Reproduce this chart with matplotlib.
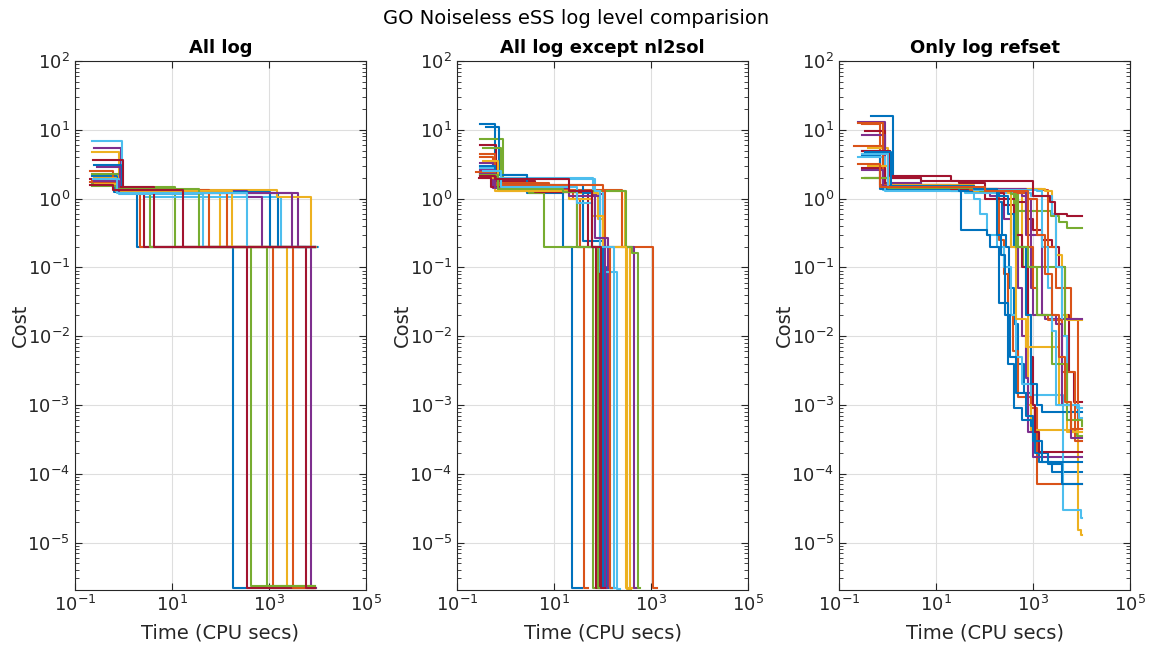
import matplotlib
matplotlib.use("Agg")
import matplotlib.pyplot as plt
from matplotlib.ticker import NullLocator, FixedLocator, LogFormatterMathtext

plt.rcParams['axes.unicode_minus'] = False

# MATLAB default line colours
colors = ['#0072BD', '#D95319', '#EDB120', '#7E2F8E', '#77AC30', '#4DBEEE', '#A2142F']

titles = ["All log", "All log except nl2sol", "Only log refset"]
xticks = [1e-1, 1e1, 1e3, 1e5]
yticks = [1e-5, 1e-4, 1e-3, 1e-2, 1e-1, 1e0, 1e1, 1e2]

# each run: list of (time, best cost) breakpoints, drawn as post-steps
all_log = [
    [(0.22, 2.1), (0.75, 1.45), (1.9, 0.2), (184, 2.2e-6), (9000, 2.2e-6)],
    [(0.2, 2.5), (0.6, 1.45), (2.2, 0.2), (1200, 2.15e-6), (9000, 2.15e-6)],
    [(0.22, 4.7), (0.8, 1.3), (98, 0.2), (2300, 2.2e-6), (9500, 2.2e-6)],
    [(0.25, 5.5), (0.9, 1.4), (3.5, 1.2), (4000, 0.2), (7240, 2.2e-6), (9500, 2.2e-6)],
    [(0.22, 2.3), (0.85, 1.5), (11.5, 0.2), (417, 2.3e-6), (9000, 2.3e-6)],
    [(0.22, 6.8), (0.95, 1.3), (2.6, 1.05), (1810, 0.2), (10500, 0.2)],
    [(0.24, 3.6), (1.0, 1.45), (2.6, 0.2), (347, 2.15e-6), (8000, 2.15e-6)],
    [(0.25, 3.1), (0.9, 1.35), (4.3, 1.2), (1540, 0.2), (10000, 0.2)],
    [(0.22, 1.8), (0.7, 1.3), (134, 0.2), (3080, 2.2e-6), (9000, 2.2e-6)],
    [(0.25, 2.0), (0.7, 1.35), (1500, 1.05), (7240, 0.2), (9500, 0.2)],
    [(0.28, 2.9), (0.85, 1.3), (350, 1.05), (704, 0.2), (9000, 0.2)],
    [(0.22, 1.7), (0.65, 1.4), (3.5, 0.2), (933, 2.3e-6), (9000, 2.3e-6)],
    [(0.25, 1.9), (0.8, 1.15), (44, 0.2), (9000, 0.2)],
    [(0.2, 1.9), (0.7, 1.5), (4.3, 0.2), (5730, 2.2e-6), (9000, 2.2e-6)],
    [(0.24, 1.6), (0.65, 1.25), (1070, 0.2), (9000, 0.2)],
    [(0.2, 1.75), (0.75, 1.35), (59, 0.2), (9000, 0.2)],
    [(0.26, 1.65), (0.7, 1.3), (171, 0.2), (9000, 0.2)],
    [(0.25, 1.8), (0.8, 1.2), (2930, 0.2), (9000, 0.2)],
    [(0.22, 1.55), (0.7, 1.4), (36, 0.2), (9000, 0.2)],
    [(0.24, 1.95), (0.75, 1.2), (347, 0.2), (9000, 0.2)],
    [(0.2, 1.6), (0.6, 1.35), (17, 0.2), (9000, 0.2)],
]

no_nl2sol = [
    [(0.3, 12), (0.6, 2.2), (2.8, 1.2), (15, 0.2), (24, 2.2e-6), (38, 2.2e-6)],
    [(0.3, 4.0), (0.55, 1.9), (3, 1.35), (250, 0.2), (1120, 2.2e-6), (1300, 2.2e-6)],
    [(0.35, 2.2), (0.6, 1.8), (3, 1.3), (290, 0.2), (316, 2.1e-6), (380, 2.1e-6)],
    [(0.3, 3.3), (0.55, 1.45), (6, 1.3), (60, 1.15), (100, 0.27), (130, 2.2e-6), (160, 2.2e-6)],
    [(0.3, 7.3), (0.9, 1.9), (3, 1.2), (6.2, 0.2), (65, 2.2e-6), (80, 2.2e-6)],
    [(0.3, 2.3), (0.6, 2.0), (65, 1.3), (100, 0.085), (195, 2.1e-6), (230, 2.1e-6)],
    [(0.3, 6.0), (0.65, 1.8), (4, 1.25), (30, 0.2), (85, 2.2e-6), (100, 2.2e-6)],
    [(0.4, 11), (0.75, 2.2), (2.8, 1.3), (40, 0.24), (110, 0.1), (120, 2.2e-6), (140, 2.2e-6)],
    [(0.3, 4.5), (0.6, 1.7), (8, 1.35), (25, 1.0), (35, 0.2), (42, 2.2e-6), (50, 2.2e-6)],
    [(0.35, 2.0), (0.6, 1.3), (30, 1.2), (80, 0.5), (100, 0.2), (370, 2.2e-6), (420, 2.2e-6)],
    [(0.3, 2.6), (0.6, 1.6), (10, 1.25), (60, 1.1), (90, 0.2), (450, 2.2e-6), (520, 2.2e-6)],
    [(0.35, 5.5), (0.8, 1.5), (20, 1.3), (300, 0.2), (400, 0.16), (550, 2.2e-6), (600, 2.2e-6)],
    [(0.3, 2.8), (0.6, 1.9), (70, 1.3), (90, 0.085), (140, 2.2e-6), (170, 2.2e-6)],
    [(0.28, 2.0), (0.5, 1.5), (5, 1.25), (50, 0.2), (75, 2.2e-6), (90, 2.2e-6)],
    [(0.3, 3.0), (0.6, 1.6), (40, 1.2), (60, 0.2), (100, 2.2e-6), (115, 2.2e-6)],
    [(0.25, 2.4), (0.6, 1.6), (100, 1.3), (110, 0.2), (140, 2.2e-6), (160, 2.2e-6)],
    [(0.35, 3.5), (0.7, 1.3), (20, 1.0), (60, 0.55), (100, 0.2), (300, 2.2e-6), (340, 2.2e-6)],
    [(0.3, 2.3), (0.6, 1.45), (20, 1.1), (70, 0.27), (110, 2.2e-6), (125, 2.2e-6)],
    [(0.3, 2.2), (0.7, 1.4), (15, 1.25), (30, 0.2), (80, 2.2e-6), (95, 2.2e-6)],
    [(0.35, 2.5), (0.8, 1.5), (30, 0.85), (60, 0.2), (170, 2.2e-6), (200, 2.2e-6)],
    [(0.3, 2.1), (0.6, 1.9), (20, 1.3), (60, 0.2), (95, 2.2e-6), (110, 2.2e-6)],
]

refset = [
    [(0.45, 16), (1.3, 2.0), (5, 1.5), (40, 1.35), (100, 1.3), (180, 0.9), (230, 0.3), (280, 0.2),
     (320, 0.05), (400, 0.015), (500, 4e-3), (650, 1.5e-3), (900, 6e-4), (1100, 2.5e-4),
     (1300, 1.5e-4), (2500, 1.05e-4), (10000, 1.05e-4)],
    [(0.3, 12), (0.7, 1.6), (3, 1.45), (50, 1.35), (200, 0.25), (250, 0.08), (300, 0.02),
     (380, 6e-3), (480, 1.3e-3), (900, 9e-4), (1200, 7e-5), (10000, 7e-5)],
    [(0.3, 4.5), (0.8, 1.5), (10, 1.4), (300, 1.3), (600, 0.2), (700, 0.02), (800, 1e-3),
     (900, 4.3e-4), (8300, 1.5e-5), (9800, 1.3e-5), (10000, 1.3e-5)],
    [(0.25, 13), (0.9, 1.7), (5, 1.5), (60, 1.3), (130, 1.1), (250, 0.5), (350, 0.2), (500, 0.05),
     (600, 0.01), (700, 2.5e-3), (800, 4e-4), (1000, 1.75e-4), (10000, 1.75e-4)],
    [(0.35, 2.0), (1.0, 1.45), (40, 1.3), (300, 1.2), (400, 0.65), (2400, 0.55), (3500, 0.45),
     (5000, 0.38), (10000, 0.38)],
    [(0.3, 4.5), (0.8, 1.35), (30, 1.3), (60, 1.0), (80, 0.6), (110, 0.3), (180, 0.2), (250, 0.1),
     (350, 0.02), (450, 5e-3), (600, 2e-3), (900, 1.4e-3), (4100, 3e-5), (9800, 2.3e-5),
     (10000, 2.3e-5)],
    [(0.35, 9.5), (0.9, 2.0), (5, 1.8), (30, 1.7), (100, 1.0), (500, 0.9), (700, 0.5), (1000, 0.35),
     (1500, 0.25), (2500, 0.2), (3500, 0.1), (4500, 0.02), (5500, 3e-3), (7000, 1.1e-3),
     (10000, 1.1e-3)],
    [(0.3, 4.2), (0.7, 1.4), (20, 1.3), (33, 0.35), (110, 0.3), (130, 0.2), (200, 0.03),
     (300, 4e-3), (400, 9e-4), (600, 6e-4), (900, 5e-4), (1100, 2e-4), (2000, 1.4e-4),
     (4000, 7e-5), (10000, 7e-5)],
    [(0.2, 5.8), (0.8, 1.5), (30, 1.4), (1500, 1.35), (2000, 0.2), (3000, 0.05), (6000, 0.018),
     (8500, 4.5e-4), (10000, 4.5e-4)],
    [(0.4, 5.5), (1.0, 1.5), (60, 1.4), (1800, 1.3), (2500, 0.6), (3000, 0.15), (4000, 0.02),
     (5000, 0.017), (10000, 0.017)],
    [(0.3, 8.3), (0.9, 1.6), (40, 1.35), (600, 1.1), (700, 0.3), (900, 0.05), (1000, 0.02),
     (1800, 0.018), (10000, 0.018)],
    [(0.3, 2.0), (0.9, 1.5), (50, 1.3), (400, 1.2), (500, 0.2), (630, 0.1), (4200, 0.1),
     (4500, 0.01), (5000, 1e-3), (6000, 4e-4), (8000, 3.5e-4), (10000, 3.5e-4)],
    [(0.25, 4.0), (0.9, 1.3), (40, 1.2), (900, 1.1), (2500, 0.6), (3000, 0.1), (4000, 0.01),
     (5000, 1e-3), (8000, 9e-4), (10000, 9e-4)],
    [(0.3, 2.8), (0.9, 1.6), (20, 1.4), (200, 1.2), (250, 0.8), (400, 0.3), (600, 0.1),
     (800, 0.02), (900, 5e-3), (1000, 1e-3), (1100, 4e-4), (1300, 2.1e-4), (10000, 2.1e-4)],
    [(0.3, 5.0), (1.1, 1.5), (30, 1.3), (200, 1.1), (300, 0.6), (400, 0.2), (700, 0.02),
     (900, 2e-3), (1200, 1e-3), (1500, 8e-4), (10000, 8e-4)],
    [(0.25, 12.5), (0.8, 1.6), (50, 1.35), (400, 1.2), (800, 0.2), (1000, 0.05), (1200, 0.02),
     (2000, 0.017), (4000, 3e-3), (7500, 3e-4), (10000, 3e-4)],
    [(0.4, 3.0), (1.1, 1.6), (60, 1.3), (300, 1.2), (350, 0.2), (450, 0.018), (700, 7e-3),
     (2500, 7e-3), (3500, 1e-3), (5000, 4e-4), (10000, 4e-4)],
    [(0.3, 2.6), (0.8, 1.55), (60, 1.4), (700, 1.0), (900, 0.3), (1500, 0.02), (3000, 0.015),
     (4000, 1e-3), (6000, 3.3e-4), (10000, 3.3e-4)],
    [(0.35, 2.0), (1.0, 1.45), (80, 1.3), (350, 1.15), (450, 0.2), (800, 0.1), (1200, 0.02),
     (2500, 4e-3), (5000, 6e-4), (10000, 5e-4)],
    [(0.35, 4.5), (1.0, 1.5), (60, 1.35), (1200, 1.3), (1500, 0.2), (2000, 0.05), (2500, 0.012),
     (3000, 1e-3), (9000, 6.5e-4), (10000, 6.5e-4)],
    [(0.3, 5.0), (1.1, 2.1), (20, 1.8), (1000, 1.1), (2200, 0.9), (2800, 0.6), (5000, 0.55),
     (10000, 0.55)],
    [(0.35, 4.8), (1.2, 1.55), (60, 1.4), (180, 0.3), (220, 0.15), (260, 0.02), (330, 5e-3),
     (450, 1.5e-3), (700, 7e-4), (1000, 3e-4), (1500, 1.5e-4), (10000, 1.5e-4)],
    [(0.25, 3.2), (0.7, 1.5), (100, 1.3), (800, 1.0), (1200, 0.3), (1800, 0.08), (2500, 0.02),
     (3500, 5e-3), (4500, 1.1e-3), (6000, 4.5e-4), (10000, 4.5e-4)],
]

panels = [all_log, no_nl2sol, refset]

# minor y ticks inside the visible range only
yminor = [m * 10.0 ** e for e in range(-6, 2) for m in range(2, 10) if 2.04e-6 < m * 10.0 ** e < 100]

fig = plt.figure(figsize=(11.53, 6.53), dpi=100)
axc = '#262626'
lefts = [0.065, 0.3964, 0.7277]

for k in range(3):
    ax = fig.add_axes([lefts[k], 0.0965, 0.2524, 0.810])
    for i, run in enumerate(panels[k]):
        t = [p[0] for p in run]
        c = [p[1] for p in run]
        ax.step(t, c, where='post', color=colors[i % 7], lw=1.5)
    ax.set_xscale('log')
    ax.set_yscale('log')
    ax.set_xlim(0.1, 1e5)
    ax.set_ylim(2.04e-6, 100)
    ax.xaxis.set_major_locator(FixedLocator(xticks))
    ax.xaxis.set_major_formatter(LogFormatterMathtext())
    ax.xaxis.set_minor_locator(NullLocator())
    ax.yaxis.set_major_locator(FixedLocator(yticks))
    ax.yaxis.set_major_formatter(LogFormatterMathtext())
    ax.yaxis.set_minor_locator(FixedLocator(yminor))
    ax.tick_params(which='both', direction='in', top=True, right=True, colors=axc, labelsize=13)
    ax.tick_params(which='major', length=5)
    ax.tick_params(which='minor', length=3)
    ax.grid(True, which='major', color='#dedede', lw=0.8)
    ax.set_axisbelow(True)
    for s in ax.spines.values():
        s.set_color(axc)
    ax.set_title(titles[k], fontsize=13, fontweight='bold', pad=6)
    ax.set_xlabel('Time (CPU secs)', fontsize=14, color=axc, labelpad=6)
    ax.set_ylabel('Cost', fontsize=14, color=axc, labelpad=-2)

fig.text(0.5, 0.972, 'GO Noiseless eSS log level comparision', ha='center', va='center', fontsize=14)
fig.savefig('out.png', dpi=100)
